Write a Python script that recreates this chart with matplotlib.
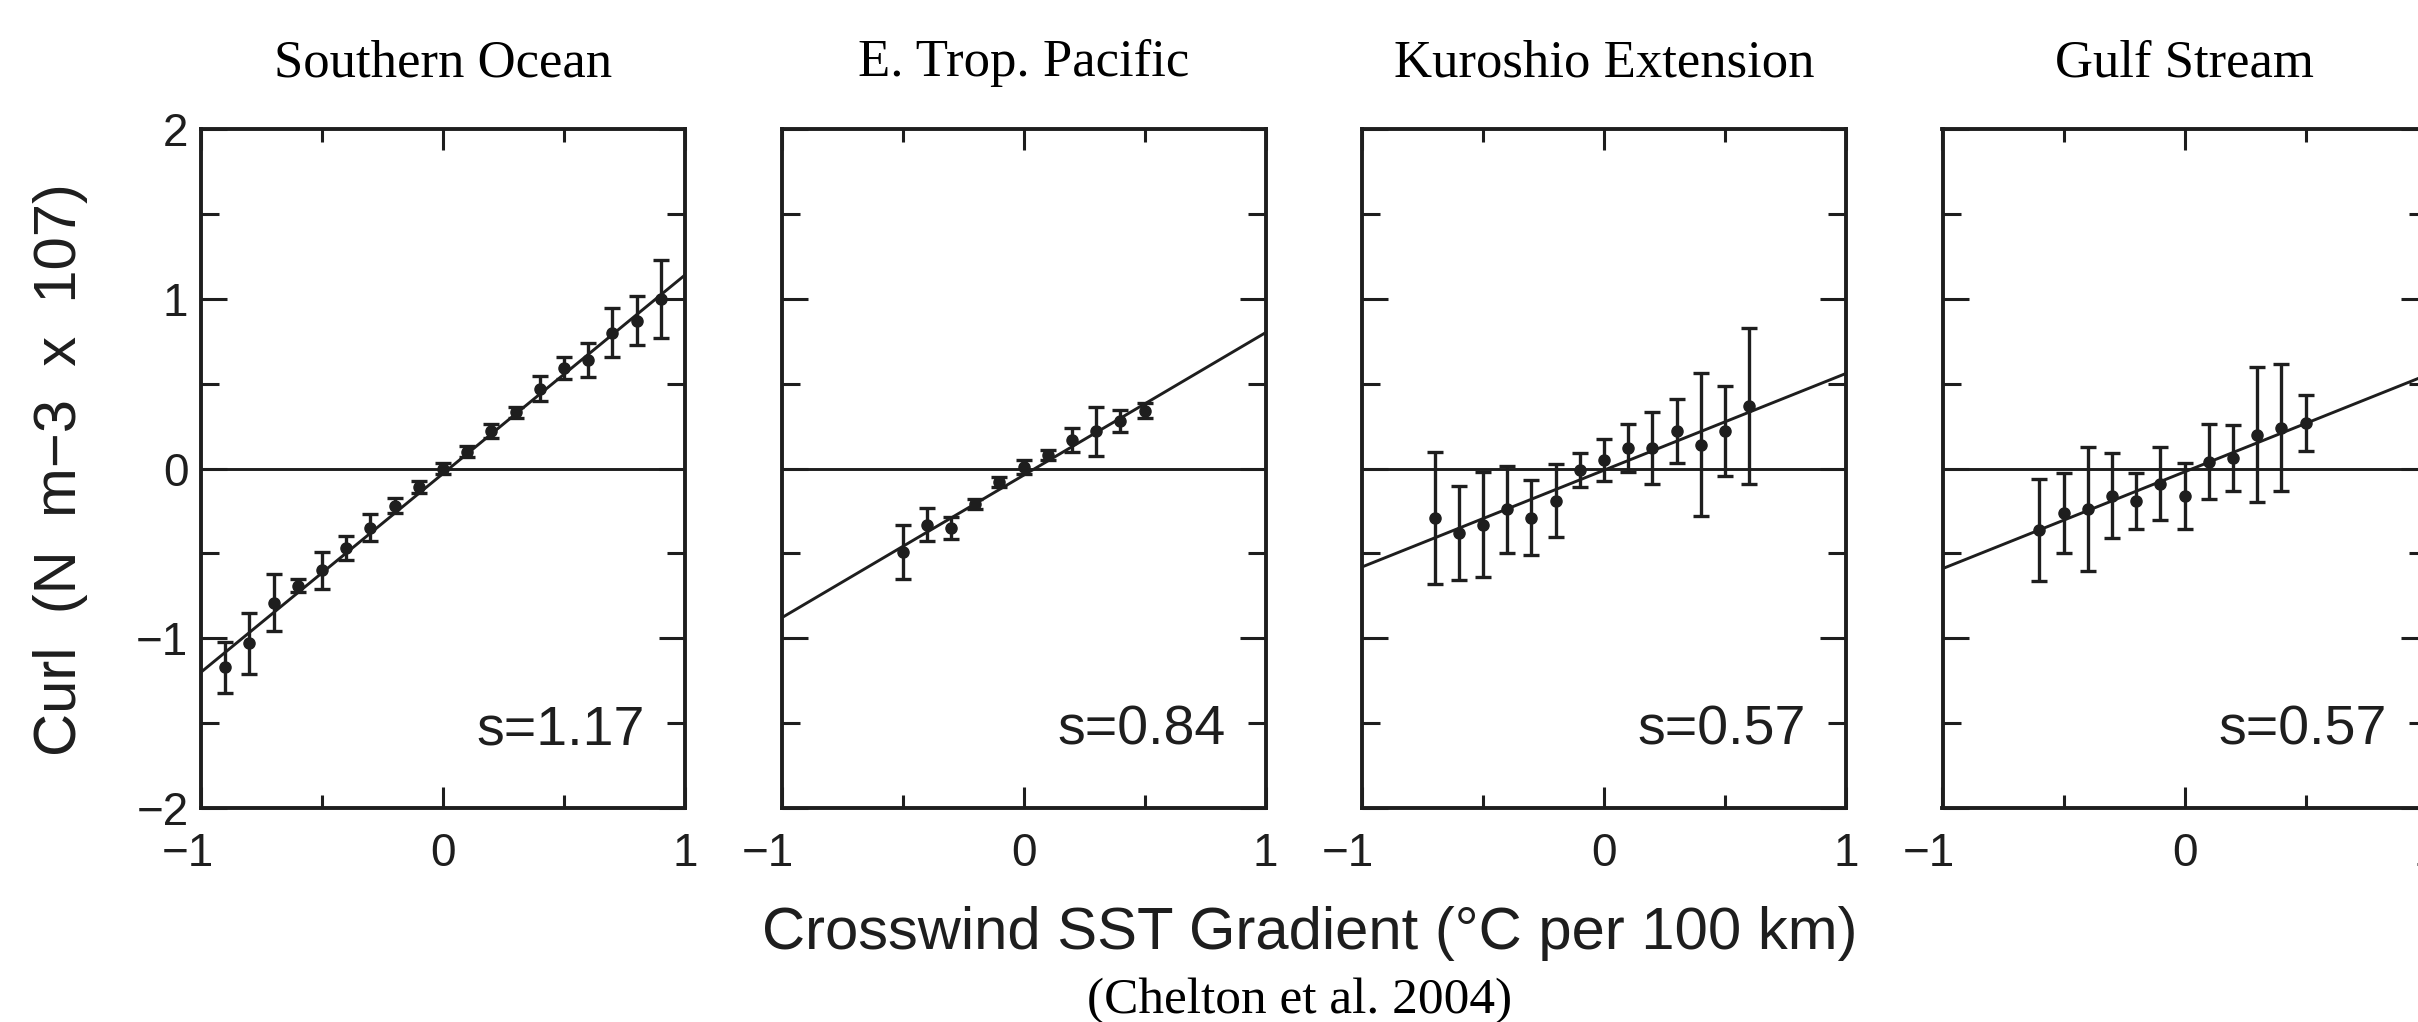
import numpy as np
import matplotlib.pyplot as plt
from matplotlib.ticker import MultipleLocator
from matplotlib.transforms import offset_copy

plt.rcParams['font.family'] = ['Liberation Sans', 'DejaVu Sans']

# Panel names and fitted slopes / intercepts
regions = ["Southern Ocean", "E. Trop. Pacific", "Kuroshio Extension", "Gulf Stream"]
slopes = [1.17, 0.84, 0.57, 0.57]
intercepts = [-0.03, -0.04, -0.01, -0.02]

# Binned crosswind SST gradient (deg C per 100 km) vs curl, with error bars
so_x = [-0.9, -0.8, -0.7, -0.6, -0.5, -0.4, -0.3, -0.2, -0.1, 0.0,
        0.1, 0.2, 0.3, 0.4, 0.5, 0.6, 0.7, 0.8, 0.9]
so_curl = [-1.17, -1.03, -0.79, -0.69, -0.60, -0.47, -0.35, -0.22, -0.11, 0.00,
           0.10, 0.22, 0.33, 0.47, 0.59, 0.64, 0.80, 0.87, 1.00]
so_err = [0.15, 0.18, 0.17, 0.04, 0.11, 0.07, 0.08, 0.045, 0.035, 0.03,
          0.03, 0.04, 0.035, 0.075, 0.065, 0.10, 0.145, 0.145, 0.23]

etp_x = [-0.5, -0.4, -0.3, -0.2, -0.1, 0.0, 0.1, 0.2, 0.3, 0.4, 0.5]
etp_curl = [-0.49, -0.33, -0.35, -0.21, -0.08, 0.01, 0.08, 0.17, 0.22, 0.28, 0.34]
etp_err = [0.16, 0.10, 0.065, 0.03, 0.03, 0.04, 0.03, 0.07, 0.145, 0.065, 0.045]

ke_x = [-0.7, -0.6, -0.5, -0.4, -0.3, -0.2, -0.1, 0.0, 0.1, 0.2, 0.3, 0.4, 0.5, 0.6]
ke_curl = [-0.29, -0.38, -0.33, -0.24, -0.29, -0.19, -0.01, 0.05, 0.12, 0.12,
           0.22, 0.14, 0.22, 0.37]
ke_err = [0.39, 0.275, 0.31, 0.255, 0.22, 0.215, 0.10, 0.125, 0.14, 0.21,
          0.19, 0.42, 0.265, 0.46]

gs_x = [-0.6, -0.5, -0.4, -0.3, -0.2, -0.1, 0.0, 0.1, 0.2, 0.3, 0.4, 0.5]
gs_curl = [-0.36, -0.26, -0.24, -0.16, -0.19, -0.09, -0.16, 0.04, 0.06, 0.20, 0.24, 0.27]
gs_err = [0.30, 0.235, 0.365, 0.25, 0.165, 0.215, 0.195, 0.22, 0.195, 0.395, 0.375, 0.165]

panels = [(so_x, so_curl, so_err), (etp_x, etp_curl, etp_err),
          (ke_x, ke_curl, ke_err), (gs_x, gs_curl, gs_err)]

xtick_vals = [-1, 0, 1]

ink = '#1e1e1e'
W, H = 2418, 1022
fig = plt.figure(figsize=(W / 100, H / 100), dpi=100)

for i, (name, (x, curl, err)) in enumerate(zip(regions, panels)):
    left = (201 + 580.5 * i) / W
    ax = fig.add_axes([left, 1 - 808 / H, 484 / W, 679 / H])

    ax.axhline(0, color=ink, lw=2.1, zorder=1)
    ax.axline((0, intercepts[i]), slope=slopes[i], color=ink, lw=2.1, zorder=2)
    ax.errorbar(x, curl, yerr=err, fmt='o', color=ink, ms=8, elinewidth=2.4,
                capsize=6, capthick=2.4, zorder=3)

    ax.set_xlim(-1, 1)
    ax.set_ylim(-2, 2)
    ax.xaxis.set_major_locator(MultipleLocator(1))
    ax.xaxis.set_minor_locator(MultipleLocator(0.5))
    ax.yaxis.set_major_locator(MultipleLocator(1))
    ax.yaxis.set_minor_locator(MultipleLocator(0.5))
    ax.tick_params(which='both', direction='in', top=True, right=True,
                   width=2.2, color=ink, labelbottom=False)
    ax.tick_params(axis='x', which='major', length=15)
    ax.tick_params(axis='x', which='minor', length=9.5)
    ax.tick_params(axis='y', which='major', length=19, pad=9,
                   labelsize=33, labelcolor=ink)
    ax.tick_params(axis='y', which='minor', length=13)
    if i > 0:
        ax.tick_params(axis='y', labelleft=False)
    for sp in ax.spines.values():
        sp.set_linewidth(2.8)
        sp.set_color(ink)

    # x tick labels: digit centred on the tick, minus sign hanging to the left
    for v in xtick_vals:
        lbl = str(abs(v))
        if v < 0:
            tr = offset_copy(ax.get_xaxis_transform(), fig=fig, x=9, y=0, units='points')
            ax.text(v, -0.035, '\u2212' + lbl, transform=tr, ha='right', va='top',
                    fontsize=33, color=ink, clip_on=False)
        else:
            ax.text(v, -0.035, lbl, transform=ax.get_xaxis_transform(), ha='center',
                    va='top', fontsize=33, color=ink, clip_on=False)

    ax.text(0.917, 0.094, f"s={slopes[i]:.2f}", transform=ax.transAxes,
            ha='right', va='baseline', fontsize=40, color=ink)
    ax.set_title(name, family='Liberation Serif', fontsize=38, pad=38, color='black')

fig.text(61 / W, 1 - 470 / H, 'Curl  (N  m\u22123  x  107)', rotation=90,
         ha='center', va='center', fontsize=43, color=ink)
fig.text(1310 / W, 1 - 933 / H, 'Crosswind SST Gradient (\u00b0C per 100 km)',
         ha='center', va='center', fontsize=43, color=ink)
fig.text(1300 / W, 1 - 1001 / H, '(Chelton et al. 2004)', family='Liberation Serif',
         ha='center', va='center', fontsize=37, color='black')

fig.savefig('out.png', dpi=100)
